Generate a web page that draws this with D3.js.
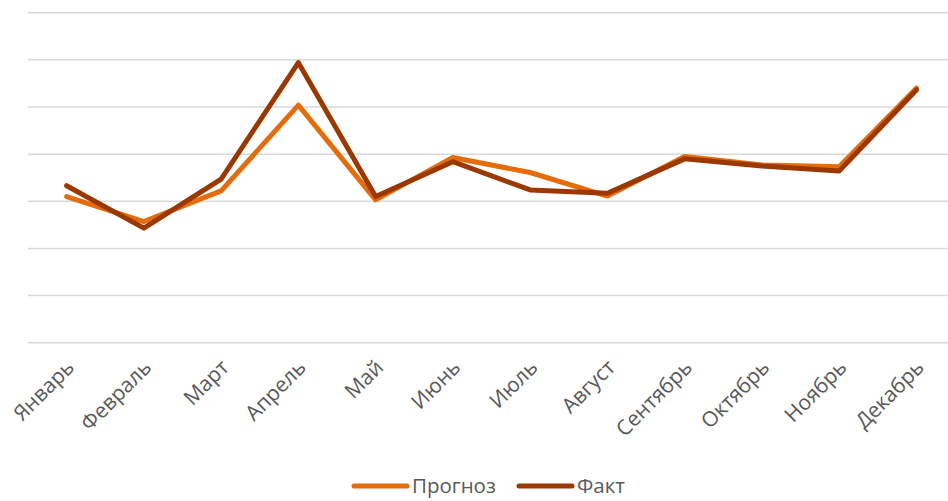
<!DOCTYPE html>
<html lang="ru">
<head>
<meta charset="UTF-8">
<script src="https://d3js.org/d3.v7.min.js"></script>
<style>
  body { margin: 0; background: #fff; }
  text { font-family: "Open Sans", "Noto Sans", sans-serif; fill: #595959; }
</style>
</head>
<body>
<svg id="chart" width="948" height="501"></svg>
<script>
const months = ["Январь", "Февраль", "Март", "Апрель", "Май", "Июнь", "Июль", "Август", "Сентябрь", "Октябрь", "Ноябрь", "Декабрь"];
const forecast = [31.0, 25.7, 32.2, 50.4, 30.3, 39.3, 36.1, 31.1, 39.5, 37.7, 37.3, 54.0];
const actual = [33.3, 24.3, 34.7, 59.4, 31.0, 38.4, 32.4, 31.7, 39.0, 37.5, 36.4, 53.6];
const gridValues = [0, 10, 20, 30, 40, 50, 60, 70];

const svg = d3.select("#chart");
const margin = {left: 28, right: -7, top: 12.7, bottom: 158.3};
const width = 948, height = 501;

const x = d3.scalePoint()
    .domain(months)
    .range([margin.left, width - margin.right])
    .padding(0.5);
const y = d3.scaleLinear()
    .domain([0, 70])
    .range([height - margin.bottom, margin.top]);

// horizontal grid
svg.append("g")
    .selectAll("line")
    .data(gridValues)
    .enter()
    .append("line")
    .attr("x1", margin.left)
    .attr("x2", width)
    .attr("y1", d => y(d))
    .attr("y2", d => y(d))
    .attr("stroke", "#d9d9d9")
    .attr("stroke-width", 1.5);

// x labels, rotated
svg.append("g")
    .selectAll("text")
    .data(months)
    .enter()
    .append("text")
    .attr("text-anchor", "end")
    .attr("font-size", 21)
    .attr("transform", d => `translate(${x(d) + 9},${y(0) + 26}) rotate(-45)`)
    .text(d => d);

const line = d3.line()
    .x((d, i) => x(months[i]))
    .y(d => y(d));

const series = [
    {name: "Прогноз", values: forecast, color: "#e46c0a"},
    {name: "Факт", values: actual, color: "#9a3800"}
];

svg.append("g")
    .selectAll("path")
    .data(series)
    .enter()
    .append("path")
    .attr("d", d => line(d.values))
    .attr("fill", "none")
    .attr("stroke", d => d.color)
    .attr("stroke-width", 5)
    .attr("stroke-linejoin", "round")
    .attr("stroke-linecap", "round");

// legend
const legendX = [354, 519];
const leg = svg.append("g")
    .selectAll("g")
    .data(series)
    .enter()
    .append("g")
    .attr("transform", (d, i) => `translate(${legendX[i]},486)`);
leg.append("line")
    .attr("x1", 0).attr("x2", 53)
    .attr("stroke", d => d.color)
    .attr("stroke-width", 5)
    .attr("stroke-linecap", "round");
leg.append("text")
    .attr("x", 58)
    .attr("y", 7)
    .attr("font-size", 20.5)
    .text(d => d.name);
</script>
</body>
</html>
